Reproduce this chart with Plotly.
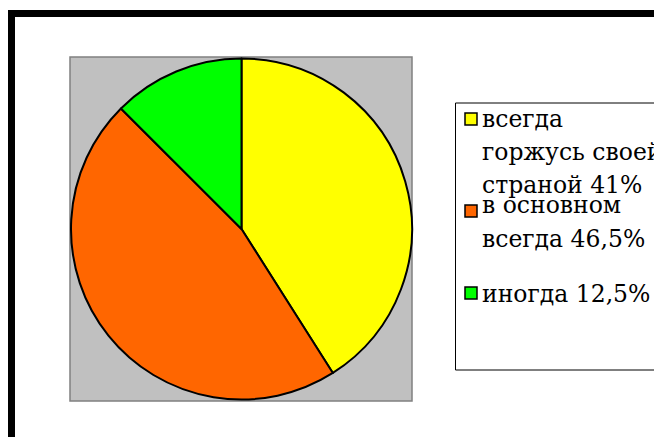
import plotly.graph_objects as go

# ---- data ----
labels = ["всегда горжусь своей страной", "в основном всегда", "иногда"]
values = [41, 46.5, 12.5]
colors = ["#FFFF00", "#FF6600", "#00FF00"]
legend_lines = [
    ["всегда", "горжусь своей", "страной 41%"],
    ["в основном", "всегда 46,5%"],
    ["иногда 12,5%"],
]

# page body has an 8px margin; work in window pixel coordinates
OFF = 8
W, H = 662 - OFF, 437 - OFF

def px(x):
    return (x - OFF) / W

def py(y):
    return 1 - (y - OFF) / H

fig = go.Figure()
fig.add_trace(go.Pie(
    labels=labels,
    values=values,
    marker=dict(colors=colors, line=dict(color="black", width=2)),
    sort=False,
    direction="clockwise",
    rotation=0,
    textinfo="none",
    hoverinfo="label+percent",
    showlegend=False,
    domain=dict(x=[px(71), px(412)], y=[py(400), py(58)]),
))

shapes = []
shapes.append(dict(type="rect", xref="paper", yref="paper",
                   x0=px(8), x1=px(680), y0=py(17), y1=py(10),
                   fillcolor="black", line=dict(width=0), layer="below"))
shapes.append(dict(type="rect", xref="paper", yref="paper",
                   x0=px(8), x1=px(15), y0=py(450), y1=py(10),
                   fillcolor="black", line=dict(width=0), layer="below"))
shapes.append(dict(type="rect", xref="paper", yref="paper",
                   x0=px(70), x1=px(412), y0=py(401), y1=py(57),
                   fillcolor="#C0C0C0", line=dict(color="#808080", width=1.5),
                   layer="below"))
shapes.append(dict(type="rect", xref="paper", yref="paper",
                   x0=px(455.5), x1=px(690), y0=py(370), y1=py(103),
                   fillcolor="white", line=dict(color="black", width=1),
                   layer="below"))

annotations = []
square_tops = [113, 205, 287]
baselines = [[127, 160, 193], [213, 247], [302]]
FS = 23.5
for i, lines in enumerate(legend_lines):
    st = square_tops[i]
    shapes.append(dict(type="rect", xref="paper", yref="paper",
                       x0=px(465), x1=px(477), y0=py(st + 12), y1=py(st),
                       fillcolor=colors[i], line=dict(color="black", width=1.5)))
    for line, base in zip(lines, baselines[i]):
        annotations.append(dict(
            xref="paper", yref="paper", x=px(480), y=py(base - 0.35 * FS),
            xanchor="left", yanchor="middle", align="left", showarrow=False,
            text=line,
            font=dict(family="DejaVu Serif", size=FS, color="black"),
        ))

fig.update_layout(
    width=W, height=H,
    margin=dict(l=0, r=0, t=0, b=0),
    paper_bgcolor="white",
    plot_bgcolor="white",
    shapes=shapes,
    annotations=annotations,
)

fig.write_html("out.html")
